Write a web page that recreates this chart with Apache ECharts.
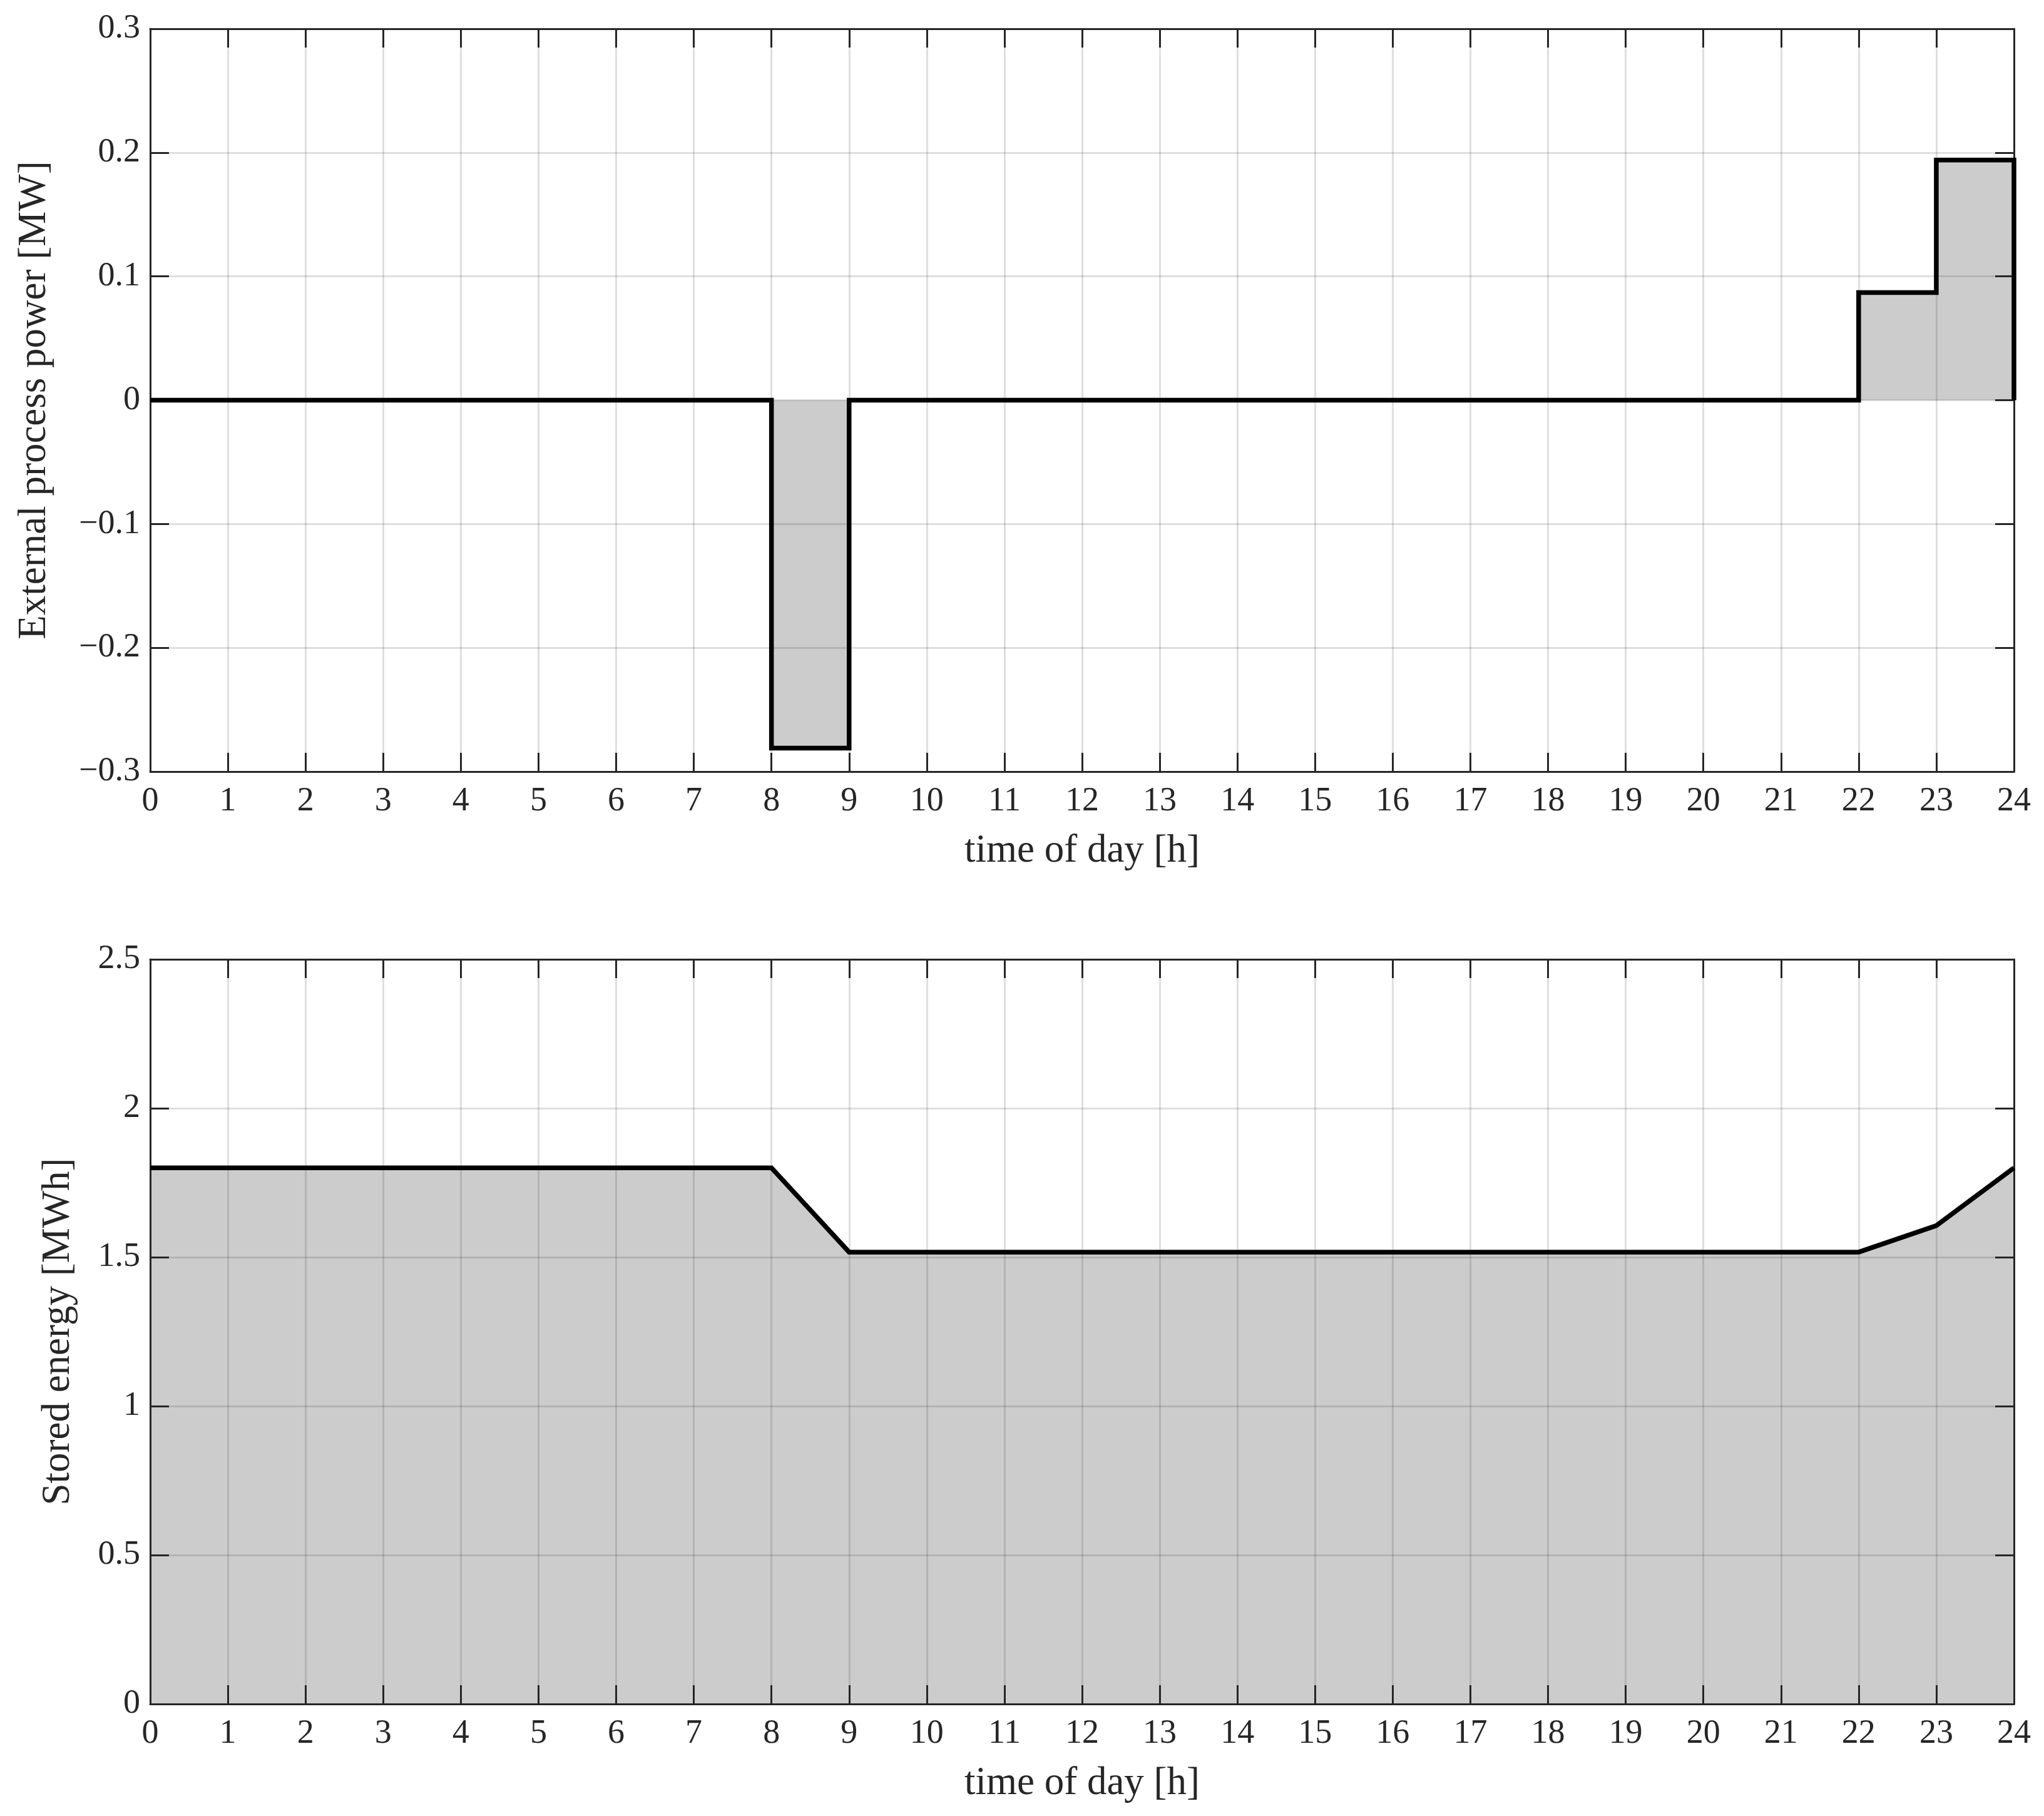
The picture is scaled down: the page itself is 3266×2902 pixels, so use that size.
<!DOCTYPE html>
<html>
<head>
<meta charset="utf-8">
<title>External process power and stored energy</title>
<script src="https://cdn.jsdelivr.net/npm/echarts@6/dist/echarts.min.js"></script>
<style>
  html, body { margin: 0; padding: 0; background: #fff; }
  #chart { width: 3266px; height: 2902px; }
</style>
</head>
<body>
<div id="chart"></div>
<script>
// hour marks on the time axis
var hours = [0, 1, 2, 3, 4, 5, 6, 7, 8, 9, 10, 11, 12, 13, 14, 15, 16, 17, 18, 19, 20, 21, 22, 23, 24];
// external process power for each hour [MW]; the last entry closes the step at 24 h
var powerMW = [0, 0, 0, 0, 0, 0, 0, 0, -0.281, 0, 0, 0, 0, 0, 0, 0, 0, 0, 0, 0, 0, 0, 0.087, 0.194, 0];
// stored energy at each hour mark [MWh]
var energyMWh = [1.8, 1.8, 1.8, 1.8, 1.8, 1.8, 1.8, 1.8, 1.8, 1.517, 1.517, 1.517, 1.517, 1.517, 1.517,
                 1.517, 1.517, 1.517, 1.517, 1.517, 1.517, 1.517, 1.517, 1.606, 1.8];
// tick values
var powerTicks = [-0.3, -0.2, -0.1, 0, 0.1, 0.2, 0.3];
var energyTicks = [0, 0.5, 1, 1.5, 2, 2.5];

var FONT = 'Liberation Serif';
var INK = '#262626';

function pairs(xs, ys) {
    return xs.map(function(x, i) { return [x, ys[i]]; });
}

function tickFmt(v) {
    var r = parseFloat(v.toFixed(2));
    if (r < 0) return '\u2212' + String(-r);
    return String(r);
}

function step(ticks) {
    return Math.round((ticks[1] - ticks[0]) * 1000) / 1000;
}

var axisLine = { show: true, onZero: false, lineStyle: { color: INK, width: 3 } };
var axisTick = { show: true, inside: true, length: 30, lineStyle: { color: INK, width: 3 } };
var gridLine = { show: true, lineStyle: { color: 'rgba(38,38,38,0.15)', width: 3 } };

function xAxes(gi) {
    return [{
        type: 'value', gridIndex: gi, position: 'bottom', z: 3,
        min: hours[0], max: hours[hours.length - 1], interval: 1,
        name: 'time of day [h]', nameLocation: 'middle', nameGap: 96,
        nameTextStyle: { fontFamily: FONT, fontSize: 63, color: INK },
        axisLine: axisLine, axisTick: axisTick, splitLine: gridLine,
        axisLabel: { fontFamily: FONT, fontSize: 54, color: INK, margin: 21 }
    }, {
        type: 'value', gridIndex: gi, position: 'top', z: 3,
        min: hours[0], max: hours[hours.length - 1], interval: 1,
        axisLine: axisLine, axisTick: axisTick, splitLine: { show: false },
        axisLabel: { show: false }
    }];
}

function yAxes(gi, ticks, title, gap) {
    return [{
        type: 'value', gridIndex: gi, position: 'left', z: 3,
        min: ticks[0], max: ticks[ticks.length - 1], interval: step(ticks),
        name: title, nameLocation: 'middle', nameGap: gap, nameRotate: 90,
        nameTextStyle: { fontFamily: FONT, fontSize: 63, color: INK },
        axisLine: axisLine, axisTick: axisTick, splitLine: gridLine,
        axisLabel: { fontFamily: FONT, fontSize: 54, color: INK, margin: 16, formatter: tickFmt }
    }, {
        type: 'value', gridIndex: gi, position: 'right', z: 3,
        min: ticks[0], max: ticks[ticks.length - 1], interval: step(ticks),
        axisLine: axisLine, axisTick: axisTick, splitLine: { show: false },
        axisLabel: { show: false }
    }];
}

var chart = echarts.init(document.getElementById('chart'));
var option = {
    backgroundColor: '#fff',
    animation: false,
    grid: [
        { left: 240, right: 48, top: 46, height: 1187 },
        { left: 240, right: 48, top: 1533, height: 1190 }
    ],
    xAxis: xAxes(0).concat(xAxes(1)),
    yAxis: yAxes(0, powerTicks, 'External process power [MW]', 153)
        .concat(yAxes(1, energyTicks, 'Stored energy [MWh]', 115)),
    series: [{
        // shaded area under the power steps
        type: 'line', xAxisIndex: 0, yAxisIndex: 0, z: 1,
        step: 'end', symbol: 'none', clip: false,
        data: pairs(hours, powerMW),
        lineStyle: { width: 0 },
        areaStyle: { color: '#cccccc', opacity: 1, origin: 0 }
    }, {
        type: 'line', xAxisIndex: 0, yAxisIndex: 0, z: 5,
        step: 'end', symbol: 'none', clip: false,
        data: pairs(hours, powerMW),
        lineStyle: { color: '#000', width: 7.5, join: 'miter' }
    }, {
        type: 'line', xAxisIndex: 2, yAxisIndex: 2, z: 1,
        symbol: 'none', clip: false,
        data: pairs(hours, energyMWh),
        lineStyle: { width: 0 },
        areaStyle: { color: '#cccccc', opacity: 1, origin: 0 }
    }, {
        type: 'line', xAxisIndex: 2, yAxisIndex: 2, z: 5,
        symbol: 'none', clip: false,
        data: pairs(hours, energyMWh),
        lineStyle: { color: '#000', width: 7.5, join: 'miter' }
    }]
};
chart.setOption(option);
</script>
</body>
</html>
